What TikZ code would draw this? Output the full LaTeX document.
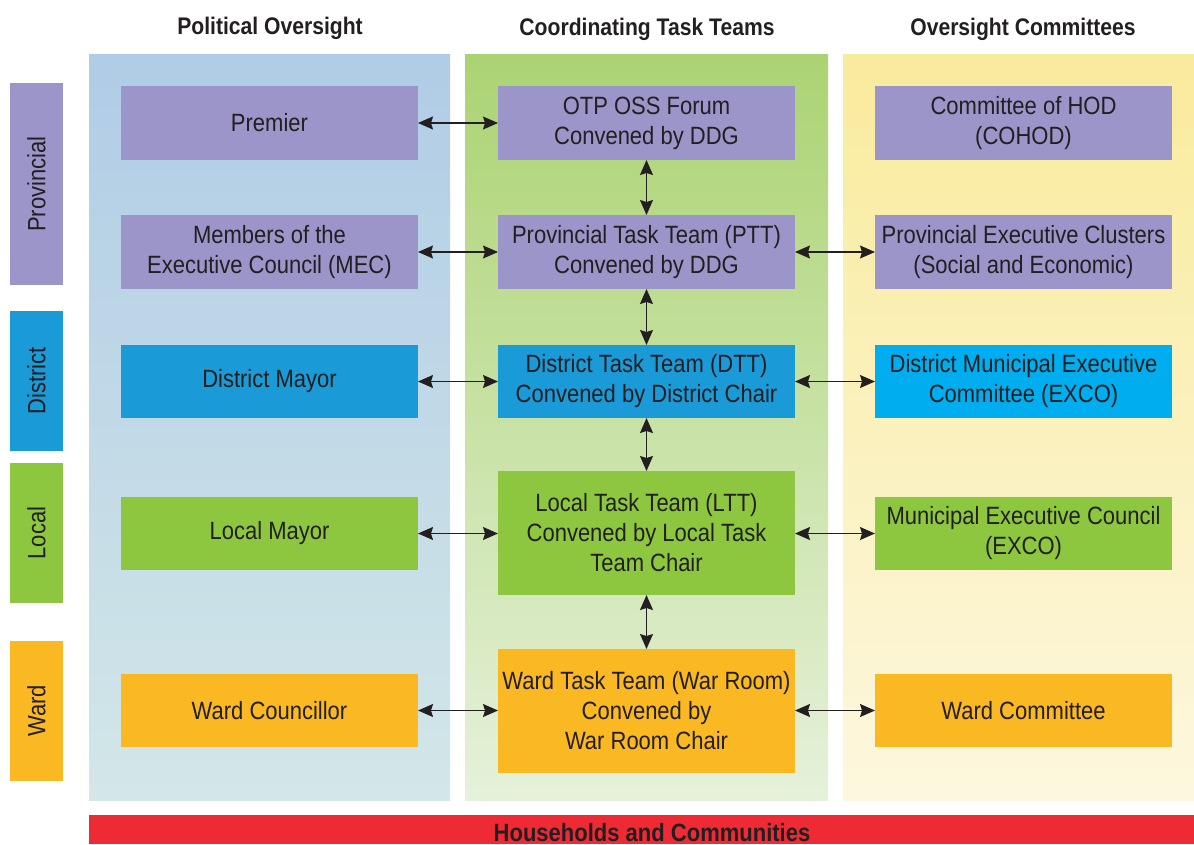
\documentclass[tikz,border=0pt]{standalone}
\usepackage{fontspec}
\setmainfont[FakeStretch=0.88]{Liberation Sans}
\usetikzlibrary{arrows.meta}
\definecolor{txt}{HTML}{231F20}
\definecolor{pur}{HTML}{9B95C9}
\definecolor{dblue}{HTML}{1A9AD7}
\definecolor{cyanb}{HTML}{00AEEF}
\definecolor{grn}{HTML}{8DC63F}
\definecolor{org}{HTML}{FAB823}
\definecolor{redb}{HTML}{EE2A34}
\definecolor{blueT}{HTML}{B0CCE6}
\definecolor{blueB}{HTML}{D3E7E8}
\definecolor{grnT}{HTML}{ABD372}
\definecolor{grnB}{HTML}{E6F1DA}
\definecolor{yelT}{HTML}{F9EB9C}
\definecolor{yelB}{HTML}{FDF7DF}
\definecolor{arrc}{HTML}{231F20}
\tikzset{
  box/.style={rectangle, fill=#1, minimum width=297pt, inner sep=2pt, outer sep=0pt,
    text=txt, align=center, font=\fontsize{25}{30}\selectfont},
  level/.style={rectangle, fill=#1, minimum width=53pt, inner sep=0pt, outer sep=0pt,
    text=txt, font=\fontsize{25}{30}\selectfont},
  head/.style={text=txt, font=\fontsize{24}{28}\selectfont\bfseries, anchor=base, inner sep=0pt},
  arr/.style={draw=arrc, line width=1.2pt, {Stealth[length=15pt,width=13pt,inset=2pt]}-{Stealth[length=15pt,width=13pt,inset=2pt]}},
}
\begin{document}
\begin{tikzpicture}[x=1pt,y=-1pt]
\useasboundingbox (0,0) rectangle (1194,844);
% column backgrounds
\fill[top color=blueT, bottom color=blueB] (89,54) rectangle (450,800);
\fill[top color=grnT, bottom color=grnB] (465,54) rectangle (828,800);
\fill[top color=yelT, bottom color=yelB] (843,54) rectangle (1194,800);
% headers
\node[head] (h1) at (270,34) {Political Oversight};
\node[head] (h2) at (647,35) {Coordinating Task Teams};
\node[head] (h3) at (1023,35) {Oversight Committees};
% level bars
\node[level=pur, minimum height=202pt] (lp) at (36.5,184) {\rotatebox{90}{Provincial}};
\node[level=dblue, minimum height=140pt] (ld) at (36.5,381) {\rotatebox{90}{District}};
\node[level=grn, minimum height=140pt] (ll) at (36.5,533) {\rotatebox{90}{Local}};
\node[level=org, minimum height=140pt] (lw) at (36.5,711) {\rotatebox{90}{Ward}};
% column 1
\node[box=pur, minimum height=74pt] (premier) at (269.5,123) {Premier};
\node[box=pur, minimum height=74pt] (mec) at (269.5,252) {Members of the\\Executive Council (MEC)};
\node[box=dblue, minimum height=73pt] (dmayor) at (269.5,381.5) {District Mayor};
\node[box=grn, minimum height=73pt] (lmayor) at (269.5,533.5) {Local Mayor};
\node[box=org, minimum height=73pt] (wcoun) at (269.5,710.5) {Ward Councillor};
% column 2
\node[box=pur, minimum height=74pt] (otp) at (646.5,123) {OTP OSS Forum\\Convened by DDG};
\node[box=pur, minimum height=74pt] (ptt) at (646.5,252) {Provincial Task Team (PTT)\\Convened by DDG};
\node[box=dblue, minimum height=73pt] (dtt) at (646.5,381.5) {District Task Team (DTT)\\Convened by District Chair};
\node[box=grn, minimum height=124pt] (ltt) at (646.5,533) {Local Task Team (LTT)\\Convened by Local Task\\Team Chair};
\node[box=org, minimum height=124pt] (wtt) at (646.5,711) {Ward Task Team (War Room)\\Convened by\\War Room Chair};
% column 3
\node[box=pur, minimum height=74pt] (cohod) at (1023.5,123) {Committee of HOD\\(COHOD)};
\node[box=pur, minimum height=74pt] (pec) at (1023.5,252) {Provincial Executive Clusters\\(Social and Economic)};
\node[box=cyanb, minimum height=73pt] (dmec) at (1023.5,381.5) {District Municipal Executive\\Committee (EXCO)};
\node[box=grn, minimum height=73pt] (mexc) at (1023.5,533.5) {Municipal Executive Council\\(EXCO)};
\node[box=org, minimum height=73pt] (wcom) at (1023.5,710.5) {Ward Committee};
% households bar
\fill[redb] (89,815) rectangle (1194,844);
\node[head, font=\fontsize{25}{28}\selectfont\bfseries] (hh) at (652,841) {Households and Communities};
% arrows
\draw[arr] (premier) -- (otp);
\draw[arr] (mec) -- (ptt);
\draw[arr] (ptt) -- (pec);
\draw[arr] (dmayor) -- (dtt);
\draw[arr] (dtt) -- (dmec);
\draw[arr] (lmayor.east) -- (lmayor.east -| ltt.west);
\draw[arr] (ltt.east |- mexc.west) -- (mexc.west);
\draw[arr] (wcoun.east) -- (wcoun.east -| wtt.west);
\draw[arr] (wtt.east |- wcom.west) -- (wcom.west);
\draw[arr] (otp) -- (ptt);
\draw[arr] (ptt) -- (dtt);
\draw[arr] (dtt) -- (ltt);
\draw[arr] (ltt) -- (wtt);
\end{tikzpicture}
\end{document}
